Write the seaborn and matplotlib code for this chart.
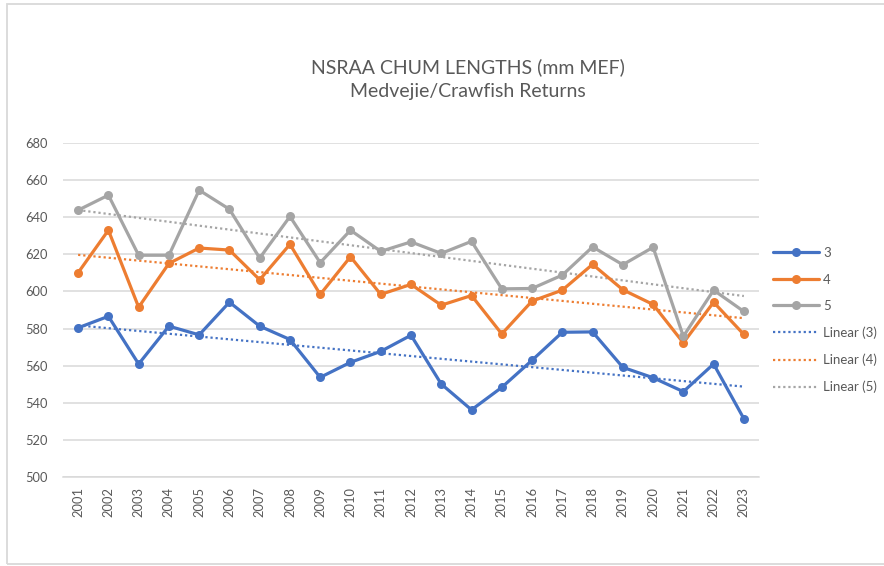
import matplotlib.pyplot as plt
import seaborn as sns
import numpy as np
import pandas as pd
from matplotlib.patches import Rectangle

years = [str(y) for y in range(2001, 2024)]
age3 = [580.4, 586.6, 560.9, 581.3, 576.6, 594.2, 581.3, 574.1, 553.7, 561.8, 567.7, 576.4,
        550.1, 536.2, 548.3, 562.9, 578.0, 578.2, 559.1, 553.5, 546.0, 560.9, 531.4]
age4 = [610.1, 633.0, 591.5, 615.1, 623.4, 622.3, 606.3, 625.4, 598.4, 618.7, 598.4, 603.8,
        592.6, 597.8, 577.1, 594.8, 600.7, 614.6, 600.9, 593.0, 572.3, 594.2, 576.8]
age5 = [643.8, 651.9, 619.5, 619.5, 654.6, 644.3, 618.0, 640.4, 615.5, 633.0, 621.6, 626.7,
        620.5, 627.0, 601.4, 601.6, 608.8, 624.0, 614.4, 623.8, 575.8, 600.7, 589.2]
series_names = ["3", "4", "5"]
colors = ["#4472C4", "#ED7D31", "#A5A5A5"]

df = pd.DataFrame({"idx": np.arange(len(years)), "3": age3, "4": age4, "5": age5})

sns.set_theme(style="white")
plt.rcParams["font.family"] = ["Lato", "DejaVu Sans"]
txt = "#595959"

fig = plt.figure(figsize=(8.84, 5.66), dpi=100)
ax = fig.add_axes([63 / 884, 89 / 566, 696 / 884, 334 / 566])

# data lines
for name, c in zip(series_names, colors):
    sns.lineplot(data=df, x="idx", y=name, ax=ax, color=c, lw=2.3, marker="o",
                 markersize=6.5, markeredgewidth=0, label=name, zorder=3)

# linear trend lines
for name, c in zip(series_names, colors):
    sns.regplot(data=df, x="idx", y=name, ax=ax, scatter=False, ci=None, label=f"Linear ({name})",
                line_kws=dict(color=c, lw=1.6, ls=(0, (1, 1.3)), zorder=2))

ax.set_xlim(-0.5, len(years) - 0.5)
ax.set_ylim(500, 680)
ax.set_yticks(np.arange(500, 681, 20))
ax.set_xticks(df["idx"])
ax.set_xticklabels(years, rotation=90)
ax.set_xlabel("")
ax.set_ylabel("")
ax.yaxis.grid(True, color="#D9D9D9", lw=1.1)
ax.xaxis.grid(False)
for s in ["top", "left", "right"]:
    ax.spines[s].set_visible(False)
ax.spines["bottom"].set_color("#D9D9D9")
ax.spines["bottom"].set_linewidth(1.1)
ax.tick_params(axis="y", length=0, pad=11, labelsize=9.3, labelcolor=txt)
ax.tick_params(axis="x", length=0, pad=7, labelsize=9.3, labelcolor=txt)

fig.text(0.529, 1 - 79 / 566, "NSRAA CHUM LENGTHS (mm MEF)\nMedvejie/Crawfish Returns",
         ha="center", va="center", fontsize=14, color=txt, linespacing=1.5)

handles, labels = ax.get_legend_handles_labels()
order = ["3", "4", "5", "Linear (3)", "Linear (4)", "Linear (5)"]
hmap = dict(zip(labels, handles))
ax.legend([hmap[l] for l in order], order, loc="upper left",
          bbox_to_anchor=(773 / 884, 1 - 247 / 566), bbox_transform=fig.transFigure,
          frameon=False, fontsize=9.5, labelcolor=txt, handlelength=3.5,
          handletextpad=0.3, labelspacing=1.1, borderpad=0, borderaxespad=0)

fig.patches.append(Rectangle((6.5 / 884, 2 / 566), 1.0, 1 - 6 / 566, transform=fig.transFigure,
                             fill=False, edgecolor="#D9D9D9", lw=1.3))

fig.savefig("out.png", dpi=100, facecolor="white")
